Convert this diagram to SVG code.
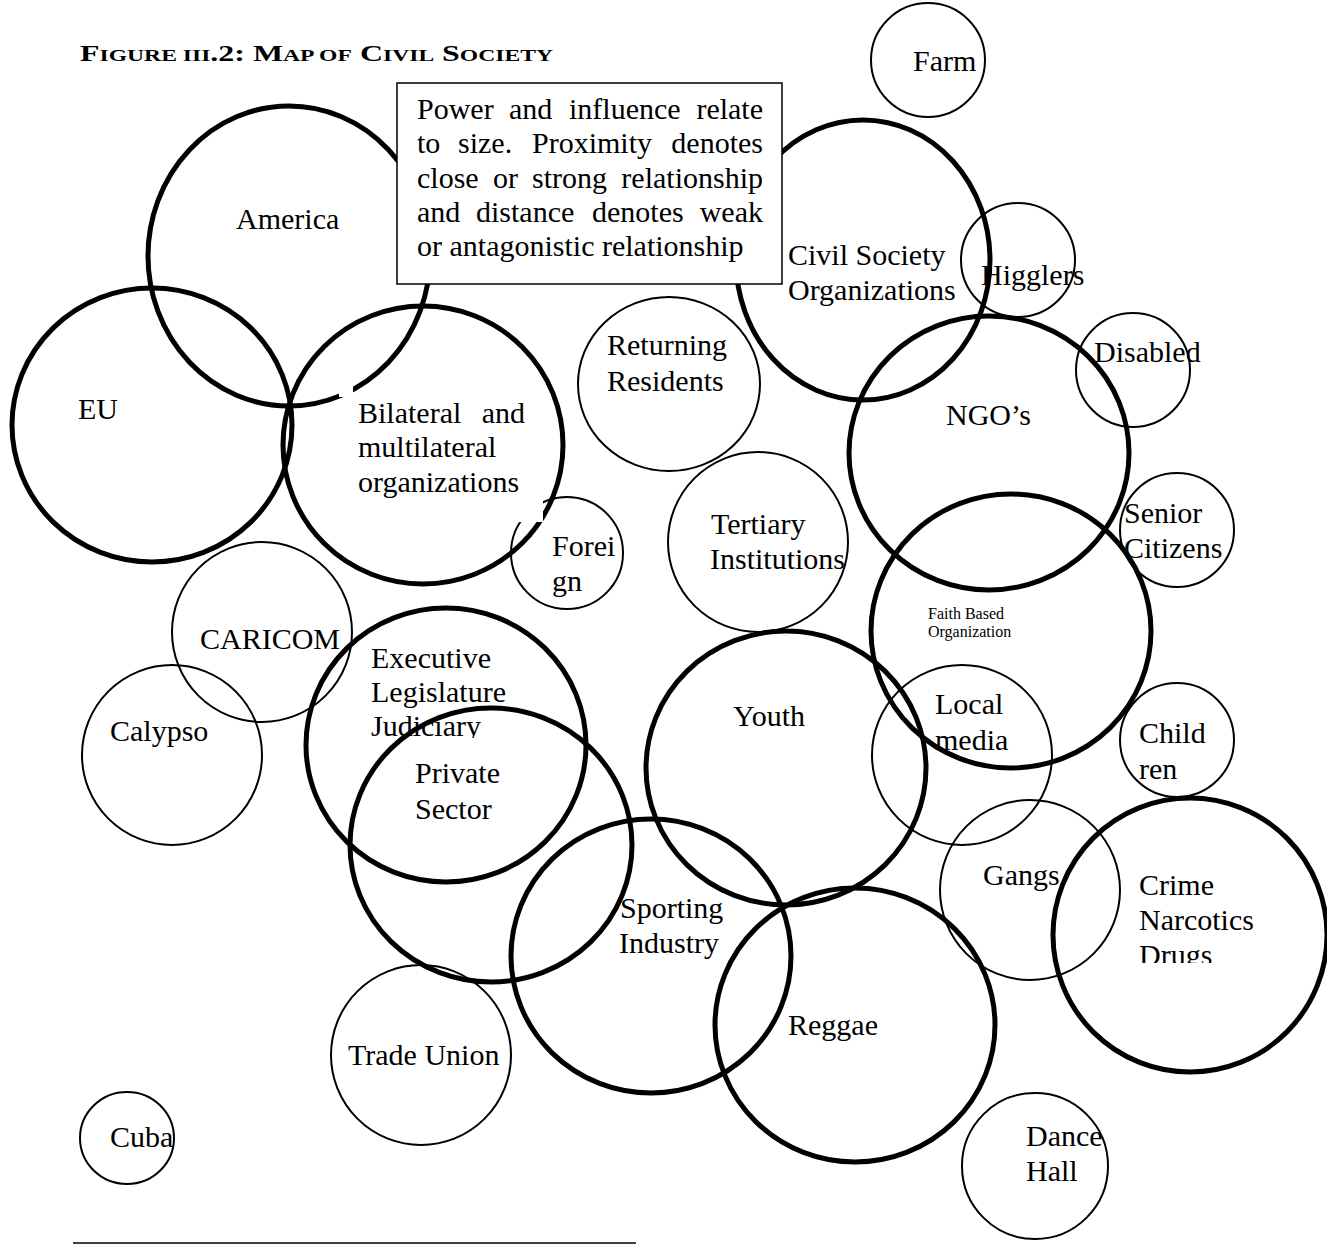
<svg xmlns="http://www.w3.org/2000/svg" width="1327" height="1253" viewBox="0 0 1327 1253">
<style>
  .thick{fill:none;stroke:#000;stroke-width:5}
  .thin{fill:none;stroke:#000;stroke-width:2}
  text{font-family:"Liberation Serif","Times New Roman",serif;fill:#000}
  .lbl{font-size:30px}
  .box{font-size:30px}
  .small{font-size:16px}
  .title{font-size:23px;font-weight:bold}
  .sc{font-size:17px}
</style>
<defs>
  <clipPath id="clipJud"><rect x="300" y="700" width="300" height="38"/></clipPath>
  <clipPath id="clipDrugs"><rect x="1100" y="930" width="200" height="33"/></clipPath>
</defs>
<rect width="1327" height="1253" fill="#fff"/>
<text class="title" x="80" y="61" textLength="473" lengthAdjust="spacingAndGlyphs">F<tspan class="sc">IGURE III</tspan>.2: M<tspan class="sc">AP OF</tspan> C<tspan class="sc">IVIL</tspan> S<tspan class="sc">OCIETY</tspan></text>

<g id="connectors"></g>

<g id="america"><ellipse class="thick" cx="289" cy="256" rx="141" ry="150"/><text class="lbl" x="236" y="229">America</text></g>
<g id="eu"><ellipse class="thick" cx="152" cy="425" rx="140" ry="137"/><text class="lbl" x="78" y="419">EU</text></g>
<g id="bilateral"><ellipse class="thick" cx="423" cy="445" rx="140" ry="139"/>
  <rect x="339" y="380" width="14" height="17" fill="#fff"/>
  <text class="lbl" x="358" y="423">Bilateral</text><text class="lbl" x="525" y="423" text-anchor="end">and</text>
  <text class="lbl" x="358" y="457">multilateral</text><text class="lbl" x="358" y="492">organizations</text></g>
<g id="farm"><ellipse class="thin" cx="928" cy="60" rx="57" ry="57"/><text class="lbl" x="913" y="71">Farm</text></g>
<g id="cso"><ellipse class="thick" cx="863" cy="260" rx="127" ry="140"/><text class="lbl" x="788" y="265">Civil Society</text><text class="lbl" x="788" y="300">Organizations</text></g>
<g id="higglers"><ellipse class="thin" cx="1018" cy="260" rx="57" ry="57"/><text class="lbl" x="981" y="285">Higglers</text></g>
<g id="disabled"><ellipse class="thin" cx="1133" cy="370" rx="57" ry="57"/><text class="lbl" x="1094" y="362">Disabled</text></g>
<g id="ngo"><ellipse class="thick" cx="989" cy="453" rx="140" ry="137"/><text class="lbl" x="946" y="425">NGO’s</text></g>
<g id="returning"><ellipse class="thin" cx="669" cy="384" rx="91" ry="87"/><text class="lbl" x="607" y="355">Returning</text><text class="lbl" x="607" y="391">Residents</text></g>
<g id="tertiary"><ellipse class="thin" cx="758" cy="542" rx="90" ry="90"/><text class="lbl" x="711" y="534">Tertiary</text><text class="lbl" x="710" y="569">Institutions</text></g>
<g id="foreign"><ellipse class="thin" cx="567" cy="553" rx="56" ry="56"/>
  <rect x="517" y="498" width="26" height="24" fill="#fff"/>
  <text class="lbl" x="552" y="556">Forei</text><text class="lbl" x="552" y="591">gn</text></g>
<g id="senior"><ellipse class="thin" cx="1177" cy="530" rx="57" ry="57"/><text class="lbl" x="1124" y="523">Senior</text><text class="lbl" x="1124" y="558">Citizens</text></g>
<g id="faith"><ellipse class="thick" cx="1011" cy="631" rx="140" ry="137"/><text class="small" x="928" y="619">Faith Based</text><text class="small" x="928" y="637">Organization</text></g>
<g id="caricom"><ellipse class="thin" cx="262" cy="632" rx="90" ry="90"/><text class="lbl" x="200" y="649">CARICOM</text></g>
<g id="calypso"><ellipse class="thin" cx="172" cy="755" rx="90" ry="90"/><text class="lbl" x="110" y="741">Calypso</text></g>
<g id="executive"><ellipse class="thick" cx="446" cy="745" rx="140" ry="137"/><text class="lbl" x="371" y="668">Executive</text><text class="lbl" x="371" y="702">Legislature</text><text class="lbl" x="371" y="736" clip-path="url(#clipJud)">Judiciary</text></g>
<g id="private"><ellipse class="thick" cx="491" cy="845" rx="141" ry="137"/><text class="lbl" x="415" y="783">Private</text><text class="lbl" x="415" y="819">Sector</text></g>
<g id="youth"><ellipse class="thick" cx="786" cy="768" rx="140" ry="137"/><text class="lbl" x="733" y="726">Youth</text></g>
<g id="local"><ellipse class="thin" cx="962" cy="755" rx="90" ry="90"/><text class="lbl" x="935" y="714">Local</text><text class="lbl" x="935" y="750">media</text></g>
<g id="children"><ellipse class="thin" cx="1177" cy="740" rx="57" ry="57"/><text class="lbl" x="1139" y="743">Child</text><text class="lbl" x="1139" y="779">ren</text></g>
<g id="gangs"><ellipse class="thin" cx="1030" cy="890" rx="90" ry="90"/><text class="lbl" x="983" y="885">Gangs</text></g>
<g id="crime"><ellipse class="thick" cx="1190" cy="935" rx="137" ry="137"/><text class="lbl" x="1139" y="895">Crime</text><text class="lbl" x="1139" y="930">Narcotics</text><text class="lbl" x="1139" y="965" clip-path="url(#clipDrugs)">Drugs</text></g>
<g id="sporting"><ellipse class="thick" cx="651" cy="956" rx="140" ry="137"/><text class="lbl" x="620" y="918">Sporting</text><text class="lbl" x="619" y="953">Industry</text></g>
<g id="reggae"><ellipse class="thick" cx="855" cy="1025" rx="140" ry="137"/><text class="lbl" x="788" y="1035">Reggae</text></g>
<g id="tradeunion"><ellipse class="thin" cx="421" cy="1055" rx="90" ry="90"/><text class="lbl" x="348" y="1065">Trade Union</text></g>
<g id="cuba"><ellipse class="thin" cx="127" cy="1138" rx="47" ry="46"/><text class="lbl" x="110" y="1147">Cuba</text></g>
<g id="dancehall"><ellipse class="thin" cx="1035" cy="1166" rx="73" ry="73"/><text class="lbl" x="1026" y="1146">Dance</text><text class="lbl" x="1026" y="1181">Hall</text></g>

<g id="legend">
  <rect x="397" y="83" width="385" height="201" fill="#fff" stroke="#000" stroke-width="1.5"/>
  <text class="box" y="119"><tspan x="417">Power</tspan><tspan x="509">and</tspan><tspan x="569">influence</tspan><tspan x="763" text-anchor="end">relate</tspan></text>
  <text class="box" y="153"><tspan x="417">to</tspan><tspan x="458">size.</tspan><tspan x="532">Proximity</tspan><tspan x="763" text-anchor="end">denotes</tspan></text>
  <text class="box" y="188"><tspan x="417">close</tspan><tspan x="493">or</tspan><tspan x="532">strong</tspan><tspan x="763" text-anchor="end">relationship</tspan></text>
  <text class="box" y="222"><tspan x="417">and</tspan><tspan x="476">distance</tspan><tspan x="592">denotes</tspan><tspan x="763" text-anchor="end">weak</tspan></text>
  <text class="box" x="417" y="256">or antagonistic relationship</text>
</g>
<line x1="73" y1="1243" x2="636" y2="1243" stroke="#000" stroke-width="1.5"/>
</svg>
